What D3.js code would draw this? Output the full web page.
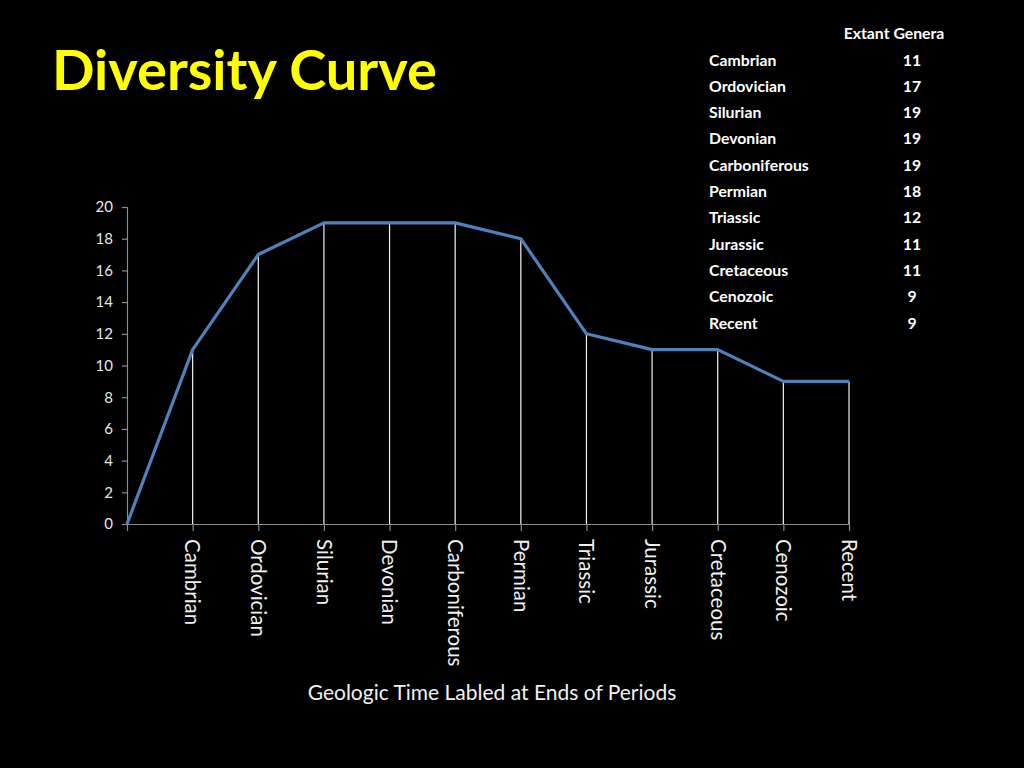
<!DOCTYPE html>
<html>
<head>
<meta charset="utf-8">
<script src="https://cdn.jsdelivr.net/npm/d3@7"></script>
<style>
html,body{margin:0;padding:0;background:#000;}
svg{display:block;}
</style>
</head>
<body>
<svg id="chart" width="1024" height="768"></svg>
<script>
const periods = ["Cambrian","Ordovician","Silurian","Devonian","Carboniferous","Permian","Triassic","Jurassic","Cretaceous","Cenozoic","Recent"];
const genera = [11,17,19,19,19,18,12,11,11,9,9];
const startLabel = "";
const startValue = 0;
const yTicks = [0,2,4,6,8,10,12,14,16,18,20];
const titleText = "Diversity Curve";
const xTitle = "Geologic Time Labled at Ends of Periods";
const tableHeader = "Extant Genera";

const svg = d3.select("#chart");
svg.append("rect").attr("width",1024).attr("height",768).attr("fill","#000");

const font = "Lato, 'Open Sans', sans-serif";

svg.append("text").attr("x",52).attr("y",90)
  .attr("fill","#ffff00").attr("font-family",font).attr("font-weight","bold")
  .attr("font-size",56).text(titleText);

const domainX = [startLabel, ...periods];
const points = [{k:startLabel,v:startValue}, ...periods.map((p,i)=>({k:p,v:genera[i]}))];

const x = d3.scalePoint().domain(domainX).range([127,849]).padding(0);
const y = d3.scaleLinear().domain([0,20]).range([524,207]);

const axisColor = "#8c8c8c";

// y axis
const gy = svg.append("g").attr("transform","translate(127,0)")
  .call(d3.axisLeft(y).tickValues(yTicks).tickSize(5).tickPadding(9));
gy.select(".domain").attr("stroke",axisColor).attr("stroke-width",1.2);
gy.selectAll(".tick line").attr("stroke",axisColor).attr("stroke-width",1.2);
gy.selectAll(".tick text").attr("fill","#e6e6e6").attr("font-family",font).attr("font-size",15);

// drop lines
svg.append("g").selectAll("line").data(points.slice(1)).join("line")
  .attr("x1",d=>x(d.k)).attr("x2",d=>x(d.k))
  .attr("y1",d=>y(d.v)).attr("y2",y(0))
  .attr("stroke","#f2f2f2").attr("stroke-width",1.2);

// x axis
const gx = svg.append("g").attr("transform",`translate(0,${y(0)})`)
  .call(d3.axisBottom(x).tickSize(7).tickSizeOuter(0).tickFormat(()=>""));
gx.select(".domain").attr("stroke",axisColor).attr("stroke-width",1.2);
gx.selectAll(".tick line").attr("stroke",axisColor).attr("stroke-width",1.2);
gx.selectAll(".tick text").remove();

// rotated labels
svg.append("g").selectAll("text").data(periods).join("text")
  .attr("transform",d=>`translate(${x(d)},539) rotate(90)`)
  .attr("dy","0.35em")
  .attr("fill","#f0f0f0").attr("font-family",font).attr("font-size",20.5)
  .attr("text-anchor","start").text(d=>d);

// line
const line = d3.line().x(d=>x(d.k)).y(d=>y(d.v));
svg.append("path").datum(points).attr("d",line)
  .attr("fill","none").attr("stroke","#4f81bd").attr("stroke-width",3.2)
  .attr("stroke-linejoin","round");

// x title
svg.append("text").attr("x",492).attr("y",700).attr("text-anchor","middle")
  .attr("fill","#f0f0f0").attr("font-family",font).attr("font-size",21).text(xTitle);

// table
const rowY = d3.scalePoint().domain(periods).range([60,323]);
const tbl = svg.append("g").attr("font-family",font).attr("font-weight","bold").attr("font-size",15.8).attr("fill","#ffffff");
tbl.append("text").attr("x",894).attr("y",39).attr("text-anchor","middle").text(tableHeader);
tbl.selectAll("text.name").data(periods).join("text").attr("class","name")
  .attr("x",709).attr("y",d=>rowY(d)+5.5).text(d=>d);
tbl.selectAll("text.val").data(periods).join("text").attr("class","val")
  .attr("x",912).attr("y",d=>rowY(d)+5.5).attr("text-anchor","middle").text((d,i)=>genera[i]);
</script>
</body>
</html>
